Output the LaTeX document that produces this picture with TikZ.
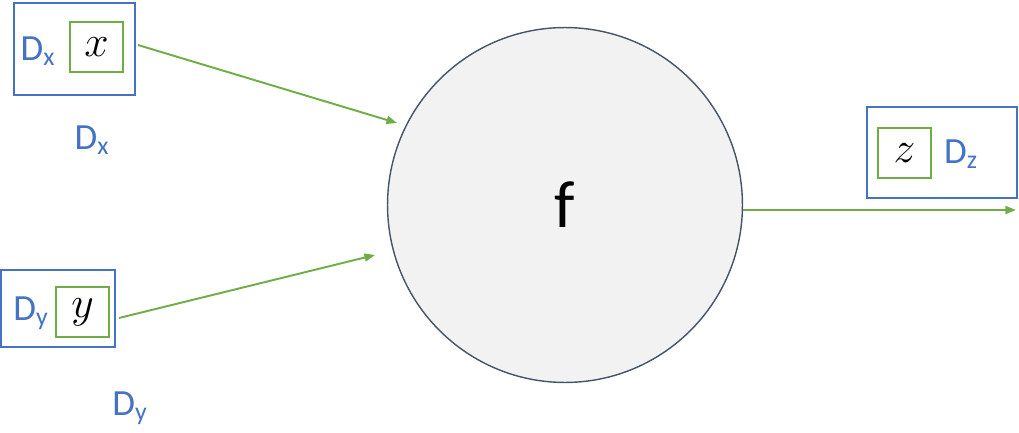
\documentclass[tikz,border=0pt]{standalone}
\usepackage{fontspec}
\setmainfont{Carlito}
\usetikzlibrary{arrows.meta}
\definecolor{dblue}{HTML}{4472C4}
\definecolor{dgreen}{HTML}{70AD47}
\definecolor{dslate}{HTML}{44546A}
\definecolor{dgray}{HTML}{F2F2F2}
\begin{document}
\begin{tikzpicture}[x=0.02cm,y=-0.02cm,
   outerbox/.style={draw=dblue,line width=1.1pt,inner sep=0pt},
   varbox/.style={draw=dgreen,line width=1.1pt,inner sep=0pt,minimum width=1.06cm,minimum height=1cm,font=\fontsize{26}{28}\selectfont},
   domlabel/.style={text=dblue,inner sep=0pt,font=\fontsize{21}{24}\selectfont},
   flow/.style={dgreen,line width=1.1pt,-{Triangle[length=6pt,width=4.5pt]}}]
   \useasboundingbox (0,0) rectangle (1019,433);

   % function
   \node[circle,draw=dslate,fill=dgray,line width=0.8pt,minimum size=7.1cm,inner sep=0pt,font=\fontsize{38}{40}\selectfont] (f) at (565,205) {f};

   % inputs
   \node[outerbox,minimum width=2.42cm,minimum height=1.84cm] (bx) at (74.5,49) {};
   \node[domlabel] (dxin) at (38,51) {D\textsubscript{x}};
   \node[varbox] (vx) at (96.5,47) {$x$};
   \node[domlabel] (dx) at (92,140) {D\textsubscript{x}};

   \node[outerbox,minimum width=2.28cm,minimum height=1.54cm] (by) at (58,308.5) {};
   \node[domlabel] (dyin) at (31,313) {D\textsubscript{y}};
   \node[varbox] (vy) at (82.5,312) {$y$};
   \node[domlabel] (dy) at (130,408) {D\textsubscript{y}};

   % output
   \node[outerbox,minimum width=3cm,minimum height=1.82cm] (bz) at (942,152.5) {};
   \node[varbox] (vz) at (904.5,153) {$z$};
   \node[domlabel] (dzin) at (961,154) {D\textsubscript{z}};

   \coordinate (ix) at (397,123);
   \coordinate (iy) at (375,255);
   \coordinate (oz) at (1016,210);

   \draw[flow] (bx.east) ++(2,-4) -- (ix);
   \draw[flow] (by.east) ++(3,9.5) -- (iy);
   \draw[flow] (f.east |- oz) -- (oz);
  \end{tikzpicture}
\end{document}
